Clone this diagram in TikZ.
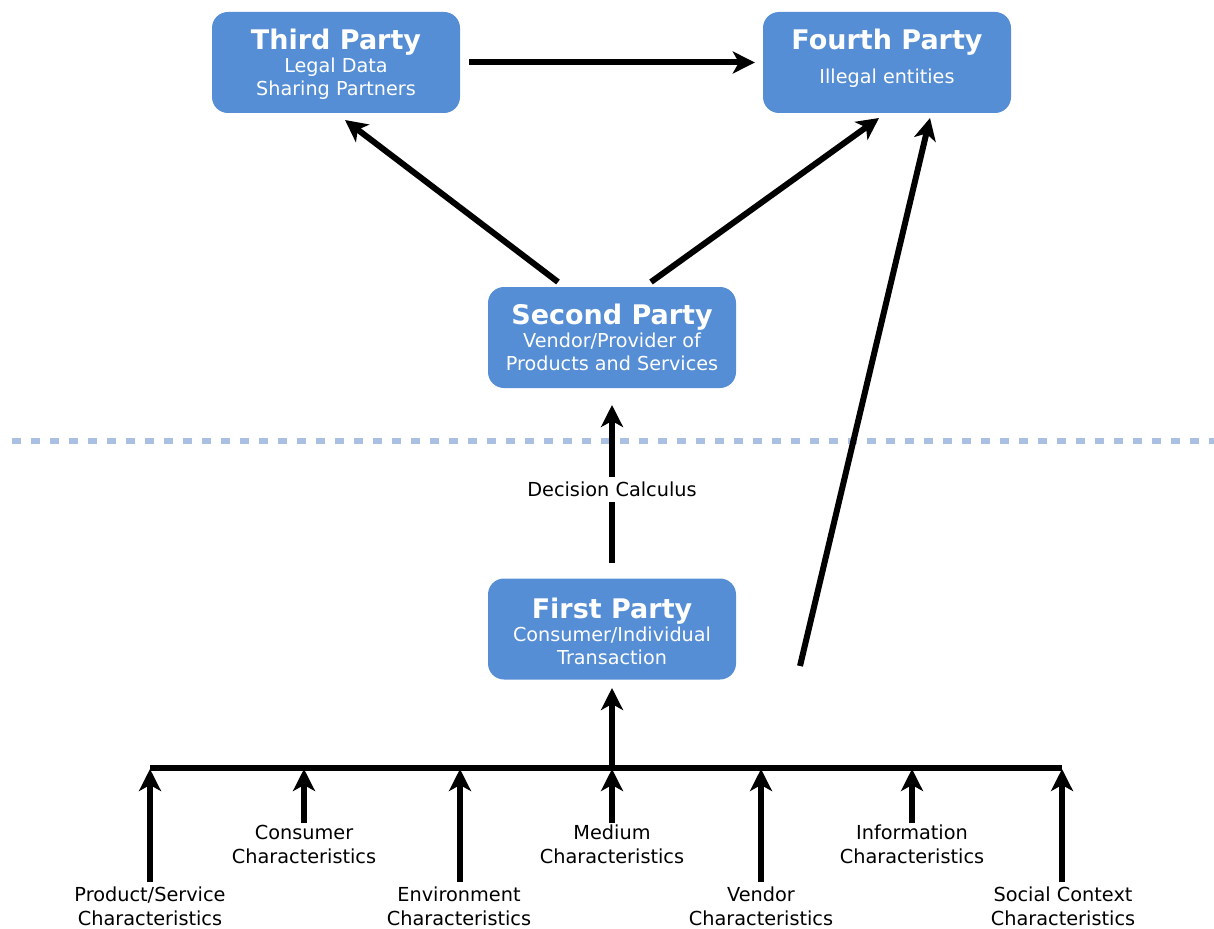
\documentclass[tikz,border=0pt]{standalone}
\usepackage{fontspec}
\setmainfont{DejaVu Sans}
\usetikzlibrary{arrows.meta}
\definecolor{boxblue}{RGB}{85,142,213}
\definecolor{dotblue}{RGB}{169,192,227}
\tikzset{
  party/.style={fill=boxblue, rounded corners=16pt, minimum width=248pt, minimum height=101pt, inner sep=0pt},
  ptext/.style={text=white, align=center, inner sep=0pt, font=\fontsize{19.2}{23}\selectfont},
  conn/.style={line width=6pt, -{Stealth[length=22pt,width=22pt,inset=6pt]}},
  lab/.style={align=center, font=\fontsize{19.3}{23.5}\selectfont, inner sep=1pt},
  blab/.style={lab, inner sep=0pt, text depth=0pt, anchor=north},
}
\newcommand{\ttl}[1]{{\fontsize{27}{30}\selectfont\bfseries #1}}
\begin{document}
\begin{tikzpicture}[x=1pt,y=-1pt]
\useasboundingbox (0,0) rectangle (1214,928);
% boxes
\node[party] (t3) at (336,62.5) {};
\node[ptext] (t3txt) at ([yshift=-2pt]t3.center) {\ttl{Third Party}\\[0pt]Legal Data\\Sharing Partners};
\node[party] (t4) at (887,62.5) {};
\node[ptext] (t4txt) at ([yshift=4.5pt]t4.center) {\ttl{Fourth Party}\\[11pt]Illegal entities};
\node[party] (t2) at (612,337.5) {};
\node[ptext] (t2txt) at (t2.center) {\ttl{Second Party}\\[0pt]Vendor/Provider of\\Products and Services};
\node[party] (t1) at (612,629) {};
\node[ptext] (t1txt) at ([yshift=-2pt]t1.center) {\ttl{First Party}\\[0pt]Consumer/Individual\\Transaction};
% dotted separator
\coordinate (sepL) at (12,441);
\coordinate (sepR) at (1214,441);
\draw[dotblue, line width=6pt, dash pattern=on 9pt off 10pt] (sepL) -- (sepR);
% top arrows
\draw[conn] ([xshift=9pt]t3.east) -- ([xshift=-8pt]t4.west);
\coordinate (s3a) at (558,282);
\coordinate (e3a) at (345,120);
\draw[conn] (s3a) -- (e3a);
\coordinate (s4a) at (651,282);
\coordinate (e4a) at (879,118);
\draw[conn] (s4a) -- (e4a);
\coordinate (s4b) at (800,666);
\coordinate (e4b) at (930,118);
\draw[conn] (s4b) -- (e4b);
% decision calculus
\coordinate (dcS) at (612,563);
\coordinate (dcE) at (612,405);
\draw[conn] (dcS) -- (dcE) node[pos=0.468, fill=white, lab, inner sep=5pt] (dc) {Decision Calculus};
% bar
\coordinate (barL) at (150,768);
\coordinate (barR) at (1062,768);
\draw[line width=6pt] (barL) -- (barR);
\coordinate (barM) at (612,768);
\coordinate (t1in) at (612,688);
\draw[conn] (barM) -- (t1in);
% labels
\node[blab] (l1) at (150,887) {Product/Service\\Characteristics};
\node[blab] (l2) at (304,825) {Consumer\\Characteristics};
\node[blab] (l3) at (459,887) {Environment\\Characteristics};
\node[blab] (l4) at (612,825) {Medium\\Characteristics};
\node[blab] (l5) at (761,887) {Vendor\\Characteristics};
\node[blab] (l6) at (912,825) {Information\\Characteristics};
\node[blab] (l7) at (1063,887) {Social Context\\Characteristics};
\draw[conn] (150,882) -- (150,769);
\draw[conn] (304,823) -- (304,769);
\draw[conn] (460,882) -- (460,769);
\draw[conn] (612,823) -- (612,769);
\draw[conn] (761,882) -- (761,769);
\draw[conn] (912,823) -- (912,769);
\draw[conn] (1062,882) -- (1062,769);
\end{tikzpicture}
\end{document}
